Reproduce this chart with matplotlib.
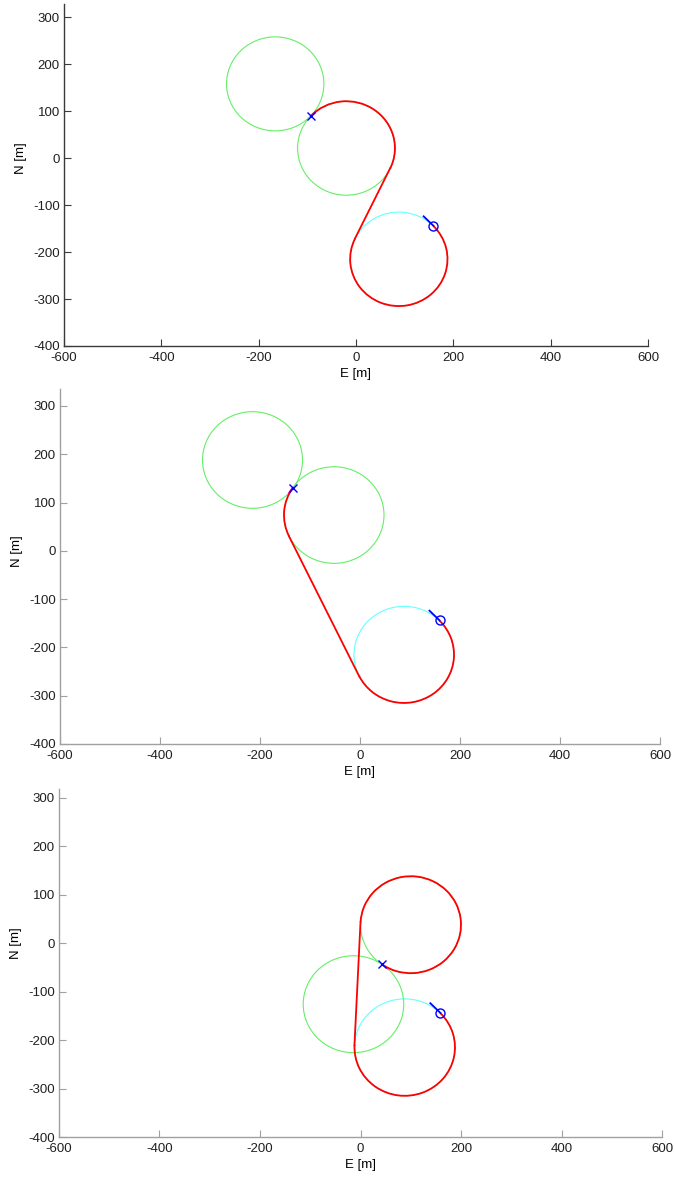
import numpy as np
import matplotlib
matplotlib.use("Agg")
import matplotlib.pyplot as plt
from matplotlib.patches import Circle, Arc

plt.rcParams.update({
    "font.family": ["Liberation Sans", "DejaVu Sans"],
    "font.size": 9.5,
    "axes.unicode_minus": False,
    "xtick.direction": "in", "ytick.direction": "in",
})

# turning circle radius [m]
R = 100
# start pose (same in every panel)
start_center = (88, -215)
start_pt = (159, -144)
start_tail = (139, -124)

# goal turning circles per panel (the second one carries the path)
goal_circles = [
    [(-166, 158), (-20, 21)],
    [(-215, 188), (-52, 74)],
    [(-14, -126), (100, 38)],
]
goal_pts = [(-93, 89), (-134, 131), (43, -44)]
goal_tails = [(-83, 99), (-142, 120), (54, -52)]

# path pieces: arc on start circle, straight leg, arc on goal circle
start_arcs = [(154, 405), (206, 405), (177, 405)]
legs = [((-2, -171), (70, -22)), ((-2, -259), (-142, 30)), ((-12, -210), (0, 43))]
goal_arcs = [(-26, 137), (145, 206), (235, 537)]

xticks = [-600, -400, -200, 0, 200, 400, 600]
yticks = [-400, -300, -200, -100, 0, 100, 200, 300]

# axes boxes in pixels: left, right, top, bottom; plus upper y limit
boxes = [(64, 648, 4, 346, 328), (60, 660, 389, 744, 335), (59, 662, 789, 1137, 318)]
spine_col = ["#3a3a3a", "#a0a0a0", "#a0a0a0"]

W, H = 675, 1178
fig = plt.figure(figsize=(W / 100, H / 100), dpi=100)

for i, (l, r, t, b, ytop) in enumerate(boxes):
    ax = fig.add_axes([l / W, 1 - b / H, (r - l) / W, (b - t) / H])
    ax.set_xlim(-600, 600)
    ax.set_ylim(-400, ytop)
    ax.set_xticks(xticks)
    ax.set_yticks(yticks)
    for s in ("top", "right"):
        ax.spines[s].set_visible(False)
    for s in ("left", "bottom"):
        ax.spines[s].set_color(spine_col[i])
        ax.spines[s].set_linewidth(1.0)
    ax.tick_params(length=5, width=0.8, color=spine_col[i], labelcolor="#202020")
    ax.tick_params(axis="x", pad=4)
    ax.tick_params(axis="y", pad=3)

    # circles
    ax.add_patch(Circle(start_center, R, fill=False, ec="#66ffff", lw=0.8, zorder=2))
    for c in goal_circles[i]:
        ax.add_patch(Circle(c, R, fill=False, ec="#66ee66", lw=0.8, zorder=2))

    # goal heading (under the path)
    gx, gy = goal_pts[i]
    tx, ty = goal_tails[i]
    ax.plot([tx, gx], [ty, gy], color="#ff33ff", lw=1.4, zorder=3)

    # path
    th1, th2 = start_arcs[i]
    ax.add_patch(Arc(start_center, 2 * R, 2 * R, theta1=th1, theta2=th2,
                     color="#ff0000", lw=1.3, zorder=4))
    (x0, y0), (x1, y1) = legs[i]
    ax.plot([x0, x1], [y0, y1], color="#ff0000", lw=1.3, zorder=4)
    th1, th2 = goal_arcs[i]
    ax.add_patch(Arc(goal_circles[i][1], 2 * R, 2 * R, theta1=th1, theta2=th2,
                     color="#ff0000", lw=1.3, zorder=4))

    # start heading + markers
    ax.plot([start_tail[0], start_pt[0]], [start_tail[1], start_pt[1]],
            color="#0000ff", lw=1.3, zorder=5)
    ax.plot(*start_pt, marker="o", ms=6.5, mfc="none", mec="#0000ff", mew=1.0, zorder=6)
    ax.plot(gx, gy, marker="x", ms=6, mec="#0000ff", mew=1.0, zorder=6)

    ax.set_xlabel("E [m]", labelpad=3)
    ax.set_ylabel("N [m]")
    ax.yaxis.set_label_coords(-37 / (r - l), 400 / (ytop + 400))

fig.savefig("out.png", dpi=100)
